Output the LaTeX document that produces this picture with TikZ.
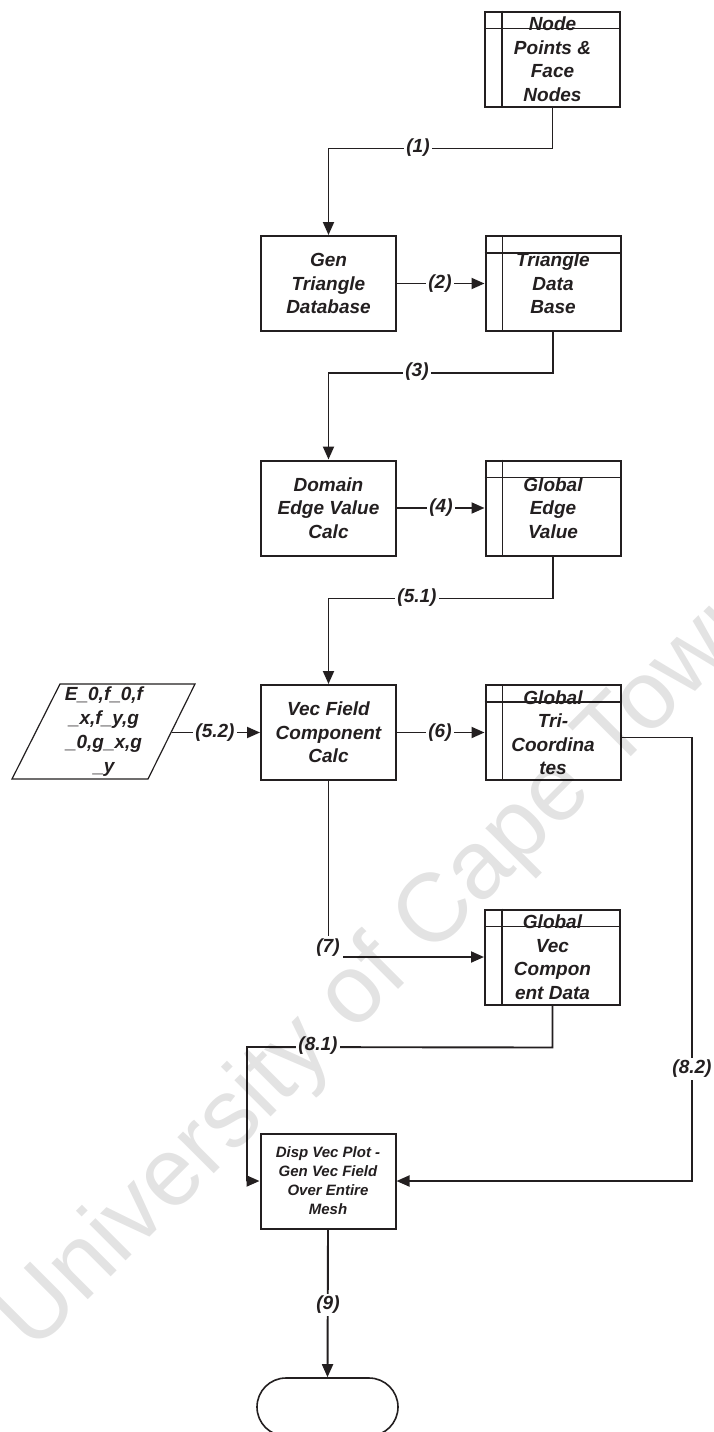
\documentclass[tikz,border=0pt]{standalone}
\usepackage{fontspec}
\setmainfont{Liberation Sans}
\usetikzlibrary{arrows.meta}
\definecolor{ink}{HTML}{231F20}
\newcommand\storelines[1]{%
  \draw[ln] ([xshift=18pt]#1.north west) -- ([xshift=18pt]#1.south west);
  \draw[ln] ([yshift=-18pt]#1.north west) -- ([yshift=-18pt]#1.north east);}
\tikzset{
  ln/.style={draw=ink, line width=1.8pt},
  proc/.style={draw=ink, line width=2pt, minimum width=135pt, minimum height=95pt,
    align=center, inner sep=0pt, text=ink,
    font=\bfseries\itshape\fontsize{19}{23.5}\selectfont},
  storebox/.style={proc},
  lbl/.style={fill=white, inner sep=2pt, text=ink,
    font=\bfseries\itshape\fontsize{19}{23}\selectfont},
  arr/.style={draw=ink, line width=1.9pt, -{Triangle[length=13pt,width=11pt]}},
}
\begin{document}
\begin{tikzpicture}[x=1pt,y=-1pt]
\clip (0,0) rectangle (714,1432);
\fill[white] (0,0) rectangle (714,1432);

% nodes
\node[storebox] (s1) at (552.5,59) {Node\\Points \&\\Face\\Nodes};
\storelines{s1}
\node[proc] (p1) at (328.5,283.5) {Gen\\Triangle\\Database};
\node[storebox] (s2) at (553,283.5) {Triangle\\Data\\Base};
\storelines{s2}
\node[proc] (p2) at (328.5,508) {Domain\\Edge Value\\Calc};
\node[storebox] (s3) at (553,508) {Global\\Edge\\Value};
\storelines{s3}
\node[proc] (p3) at (328.5,732.5) {Vec Field\\Component\\Calc};
\node[storebox] (s4) at (553,732.5) {Global\\Tri-\\Coordina\\tes};
\storelines{s4}
\draw[draw=ink, line width=1.2pt] (60,684) -- (195,684) -- (148,779) -- (12,779) -- cycle;
\node[align=center, inner sep=0pt, text=ink, font=\bfseries\itshape\fontsize{19}{24}\selectfont]
  (in) at (104,731.5) {E\_0,f\_0,f\\\_x,f\_y,g\\\_0,g\_x,g\\\_y};
\coordinate (inr) at (171.5,732.5);
\node[storebox] (s5) at (552.5,957) {Global\\Vec\\Compon\\ent Data};
\storelines{s5}
\node[proc, font=\bfseries\itshape\fontsize{15}{19}\selectfont] (p4) at (328,1181)
  {Disp Vec Plot -\\Gen Vec Field\\Over Entire\\Mesh};
\node[draw=ink, line width=1.6pt, rounded corners=29pt, minimum width=141pt, minimum height=58pt] (term) at (327.5,1407) {};

% connectors
\draw[arr] (s1.south) -- ++(0,41) coordinate (c1) -| (p1.north);
\node[lbl] (l1) at (418,148) {(1)};
\draw[arr] (p1.east) -- (s2.west);
\node[lbl] (l2) at (440,283.5) {(2)};
\draw[arr] (s2.south) -- ++(0,41) coordinate (c3) -| (p2.north);
\node[lbl] (l3) at (417,372) {(3)};
\draw[arr] (p2.east) -- (s3.west);
\node[lbl] (l4) at (441,508) {(4)};
\draw[arr] (s3.south) -- ++(0,42) coordinate (c5) -| (p3.north);
\node[lbl] (l51) at (417,598) {(5.1)};
\draw[arr] (inr) -- (p3.west);
\node[lbl] (l52) at (215,732.5) {(5.2)};
\draw[arr] (p3.east) -- (s4.west);
\node[lbl] (l6) at (440,732.5) {(6)};
\draw[arr] (p3.south) |- (s5.west);
\node[lbl, inner sep=3pt] (l7) at (328,948) {(7)};
\draw[arr] (s5.south) -- ++(0,42) coordinate (c81) -- (247,1047) coordinate (c81b) |- (p4.west);
\node[lbl] (l81) at (318,1046) {(8.1)};
\draw[arr] ([yshift=-5pt]s4.east) -- (692,737.5) coordinate (c82) |- (p4.east);
\node[lbl] (l82) at (692,1069) {(8.2)};
\draw[arr] (p4.south) -- (term.north);
\node[lbl] (l9) at (328,1305) {(9)};

% watermark (translucent overlay)
\node[rotate=45, text=black, text opacity=0.11, font=\fontsize{97}{97}\selectfont] (wm) at (386,966) {University of Cape Town};
\end{tikzpicture}
\end{document}
